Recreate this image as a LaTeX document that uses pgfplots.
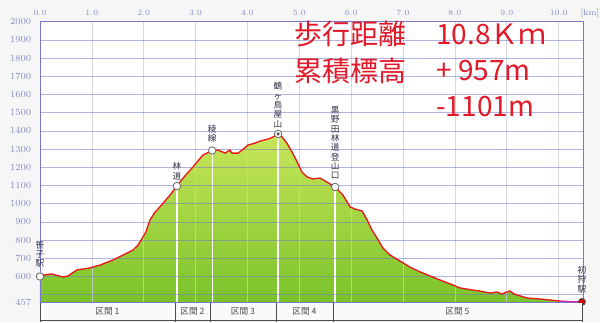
\documentclass[border=0pt]{standalone}
\usepackage{pgfplots}
\pgfplotsset{compat=1.18}
\usepackage{pgfplotstable}
\usepackage{fontspec}
\newfontfamily\jp{Noto Sans CJK JP}
\definecolor{bgc}{RGB}{246,246,246}
\definecolor{hgrid}{RGB}{120,120,200}
\definecolor{vgrid}{RGB}{200,204,222}
\definecolor{ticktxt}{RGB}{130,140,190}
\definecolor{prof}{RGB}{232,24,24}
\definecolor{magen}{RGB}{205,40,170}
\definecolor{gtop}{RGB}{200,230,90}
\definecolor{gbot}{RGB}{122,195,42}
\definecolor{bigred}{RGB}{225,25,40}
\definecolor{lbl}{RGB}{50,50,70}

\pgfplotstableread{
km elev
0.00 600
0.06 608
0.23 614
0.44 597
0.54 603
0.71 636
0.96 647
1.16 663
1.41 691
1.68 729
1.79 745
1.89 772
2.04 843
2.12 910
2.22 954
2.31 982
2.51 1048
2.64 1097
2.76 1141
2.95 1202
3.14 1267
3.32 1292
3.43 1295
3.57 1278
3.66 1295
3.70 1278
3.82 1278
3.90 1295
4.01 1322
4.15 1333
4.24 1344
4.40 1355
4.49 1366
4.59 1383
4.67 1366
4.76 1333
4.86 1284
4.96 1229
5.05 1174
5.15 1147
5.26 1136
5.40 1141
5.53 1119
5.69 1092
5.84 1048
5.98 982
6.07 971
6.21 960
6.31 910
6.40 855
6.50 811
6.61 757
6.75 718
6.94 685
7.13 652
7.33 625
7.52 603
7.71 581
7.91 559
8.10 537
8.29 528
8.48 520
8.68 509
8.81 515
8.91 504
9.00 515
9.06 520
9.14 504
9.26 493
9.39 482
9.64 476
9.83 471
10.03 465
10.22 462
10.45 460
}\profile

\pgfplotstableread{
km elev
0.00 600
2.64 1097
3.32 1292
4.59 1383
5.69 1092
}\waypts

\pgfplotsset{myax/.style={
  at={(30pt,14.625pt)}, anchor=south west,
  scale only axis, width=407.25pt, height=210.6pt,
  xmin=0, xmax=10.47, ymin=457, ymax=2000, clip=false}}

\begin{document}
\begin{tikzpicture}[x=0.75pt,y=0.75pt]
\fill[bgc] (0,0) rectangle (600,322);
\begin{axis}[myax,
  axis on top,
  axis background/.style={fill=white},
  xtick={0,1,2,3,4,5,6,7,8,9,10},
  xticklabel pos=top,
  xticklabel style={font=\fontsize{6.5}{6.5}\selectfont, text=ticktxt, yshift=1pt,
    /pgf/number format/.cd, fixed, fixed zerofill, precision=1},
  ytick={457,500,600,700,800,900,1000,1100,1200,1300,1400,1500,1600,1700,1800,1900,2000},
  yticklabels={457,,600,700,800,900,1000,1100,1200,1300,1400,1500,1600,1700,1800,1900,2000},
  yticklabel style={font=\fontsize{7}{7}\selectfont, text=ticktxt, xshift=-3pt},
  major tick length=0pt,
  grid=major,
  x grid style={vgrid, line width=0.5pt, opacity=0.8},
  y grid style={hgrid, line width=0.5pt, opacity=0.55},
  axis line style={hgrid, line width=0.7pt},
]
\addplot[draw=none, top color=gtop, bottom color=gbot] table[x=km,y=elev]{\profile} \closedcycle;
\addplot[white, line width=1pt] coordinates {(2.64,457) (2.64,1097)};
\addplot[white, line width=1pt] coordinates {(3.32,457) (3.32,1292)};
\addplot[white, line width=1pt] coordinates {(4.59,457) (4.59,1383)};
\addplot[white, line width=1pt] coordinates {(5.69,457) (5.69,1092)};
\end{axis}
\begin{axis}[myax, hide axis]
\addplot[prof, line width=1pt, restrict x to domain=0:10.04] table[x=km,y=elev]{\profile};
\addplot[magen, line width=1pt, restrict x to domain=10.02:10.5] table[x=km,y=elev]{\profile};
\addplot[only marks, mark=*, mark size=2.8pt, mark options={fill=white, draw=black!60, line width=0.6pt}] table[x=km,y=elev]{\waypts};
\addplot[only marks, mark=*, mark size=1pt, mark options={fill=black!70, draw=black!70}] coordinates {(4.59,1383)};
\addplot[only marks, mark=*, mark size=2.6pt, mark options={fill=red!85!black, draw=black!70, line width=0.6pt}] coordinates {(10.45,460)};
\begin{scope}[every node/.style={font=\jp\fontsize{6.5}{7}\selectfont, text=lbl, align=center, inner sep=0pt, anchor=south}]
\node[yshift=6.5pt] at (axis cs:0,600) {笹\\子\\駅};
\node[yshift=4.5pt] at (axis cs:2.64,1097) {林\\道};
\node[yshift=6pt] at (axis cs:3.32,1292) {稜\\線};
\node[yshift=4.5pt] at (axis cs:4.59,1383) {鶴\\ヶ\\鳥\\屋\\山};
\node[yshift=5.5pt] at (axis cs:5.69,1092) {黒\\野\\田\\林\\道\\登\\山\\口};
\node[yshift=6.5pt] at (axis cs:10.45,460) {初\\狩\\駅};
\end{scope}
\end{axis}
% section bar
\fill[white!96!gray] (40,1) rectangle (583,19.5);
\draw[black!70, line width=0.6pt] (40,1.2) -- (583,1.2);
\foreach \x in {40,175,210,276,333,582} \draw[black!70, line width=0.6pt] (\x,0) -- (\x,19.5);
\begin{scope}[every node/.style={font=\jp\fontsize{6.5}{6.5}\selectfont, text=black!70, inner sep=0pt}]
\node at (107.5,10.3) {区間 1};
\node at (192.5,10.3) {区間 2};
\node at (243,10.3) {区間 3};
\node at (304.5,10.3) {区間 4};
\node at (457.5,10.3) {区間 5};
\end{scope}
\node[font=\fontsize{6.5}{6.5}\selectfont, text=ticktxt, inner sep=0pt] at (590,309) {[km]};
% big text
\begin{scope}[every node/.style={font=\jp\fontsize{21}{21}\selectfont, text=bigred, anchor=west, inner sep=0pt}]
\node at (294,288) {歩行距離};
\node at (436,288) {10.8Ｋｍ};
\node at (294,251) {累積標高};
\node at (436,251) {+ 957m};
\node at (436,215) {-1101m};
\end{scope}
\pgfresetboundingbox
\useasboundingbox (0,0) rectangle (600,322);
\end{tikzpicture}
\end{document}
